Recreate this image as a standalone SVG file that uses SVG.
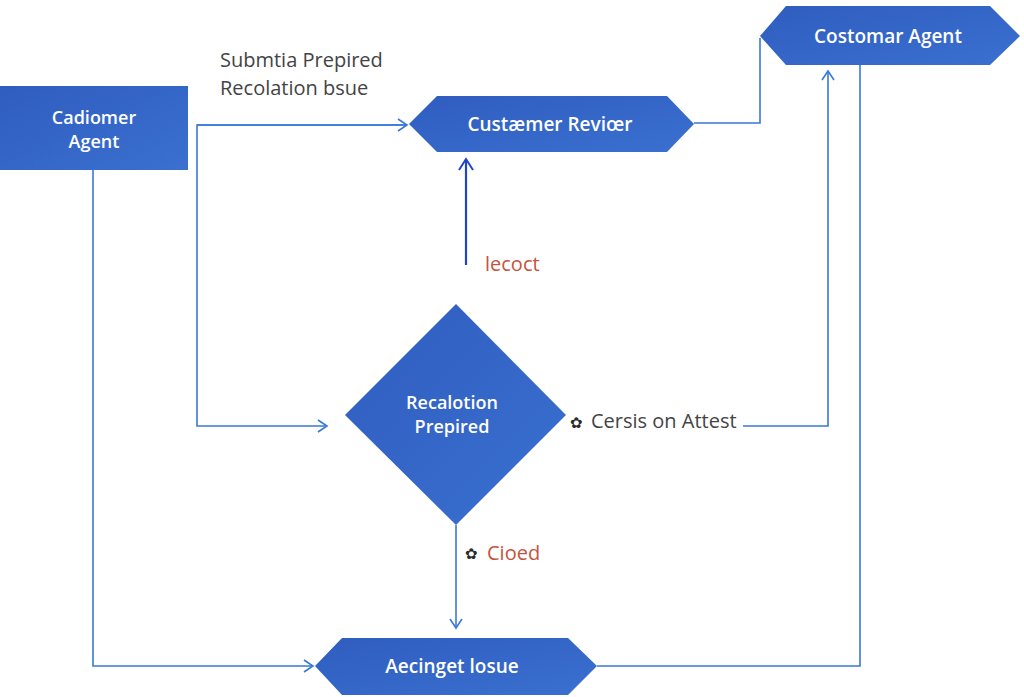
<svg xmlns="http://www.w3.org/2000/svg" width="1024" height="697" viewBox="0 0 1024 697">
<defs>
<linearGradient id="g" x1="0" y1="0" x2="1" y2="1"><stop offset="0" stop-color="#2f5dbf"/><stop offset="1" stop-color="#3a70d0"/></linearGradient>
<marker id="a" markerWidth="14" markerHeight="14" refX="11" refY="7" orient="auto" markerUnits="userSpaceOnUse"><path d="M2 1 L11 7 L2 13" fill="none" stroke="#3a78d8" stroke-width="1.6"/></marker>
<marker id="ad" markerWidth="16" markerHeight="16" refX="13" refY="8" orient="auto" markerUnits="userSpaceOnUse"><path d="M2 1 L13 8 L2 15" fill="none" stroke="#1f47c4" stroke-width="2"/></marker>
<style>
.n{fill:url(#g)}
.t{font-family:"Open Sans","Liberation Sans",sans-serif;font-weight:600;font-size:19px;fill:#fff;text-anchor:middle}
.t2{font-size:18px}
.c{fill:none;stroke:#3a78d8;stroke-width:1.6}
.l{font-family:"Open Sans","Liberation Sans",sans-serif;font-size:20px;fill:#444}
.r{font-family:"Open Sans","Liberation Sans",sans-serif;font-size:20px;fill:#c4543c}
.i{font-family:"DejaVu Sans",sans-serif;font-size:15px;fill:#2a2a2a;font-weight:700}
</style>
</defs>
<rect width="1024" height="697" fill="#fff"/>
<g id="connectors">
<path class="c" d="M93 170 V666 H313" marker-end="url(#a)"/>
<path class="c" d="M407 125 H197 V426 H327" marker-end="url(#a)"/>
<path class="c" d="M197 125 H407" marker-end="url(#a)"/>
<path d="M466 265 V159" fill="none" stroke="#1f47c4" stroke-width="2.2" marker-end="url(#ad)"/>
<path class="c" d="M456 525 V628" marker-end="url(#a)"/>
<path class="c" d="M743 426 H828 V71" marker-end="url(#a)"/>
<path class="c" d="M694 123 H760 V38"/>
<path class="c" d="M860 65 V666 H597"/>
<text class="l" x="220" y="67">Submtia Prepired</text>
<text class="l" x="220" y="95">Recolation bsue</text>
<text class="r" x="485" y="271" font-size="15">lecoct</text>
<text class="i" x="570" y="428">✿</text>
<text class="l" x="591" y="428" font-size="18.5">Cersis on Attest</text>
<text class="i" x="465" y="559">✿</text>
<text class="r" x="487" y="560">Cioed</text>
</g>
<g id="customer-agent">
<rect class="n" x="0" y="86" width="188" height="84"/>
<text class="t t2" x="94" y="124">Cadiomer</text>
<text class="t t2" x="94" y="148">Agent</text>
</g>
<g id="customer-review">
<polygon class="n" points="409,124 437,96 667,96 694,124 667,152 437,152"/>
<text class="t" x="550" y="131">Custæmer Reviœr</text>
</g>
<g id="customar-agent">
<polygon class="n" points="760,36 786,6 990,6 1020,36 990,65 786,65"/>
<text class="t" x="888" y="43">Costomar Agent</text>
</g>
<g id="resolution">
<polygon class="n" points="456,304 566,415 456,525 345,415"/>
<text class="t t2" x="452" y="409">Recalotion</text>
<text class="t t2" x="452" y="433">Prepired</text>
</g>
<g id="assign-issue">
<polygon class="n" points="315,666 342,638 568,638 597,666 568,695 342,695"/>
<text class="t" x="452" y="673">Aecinget losue</text>
</g>
</svg>
